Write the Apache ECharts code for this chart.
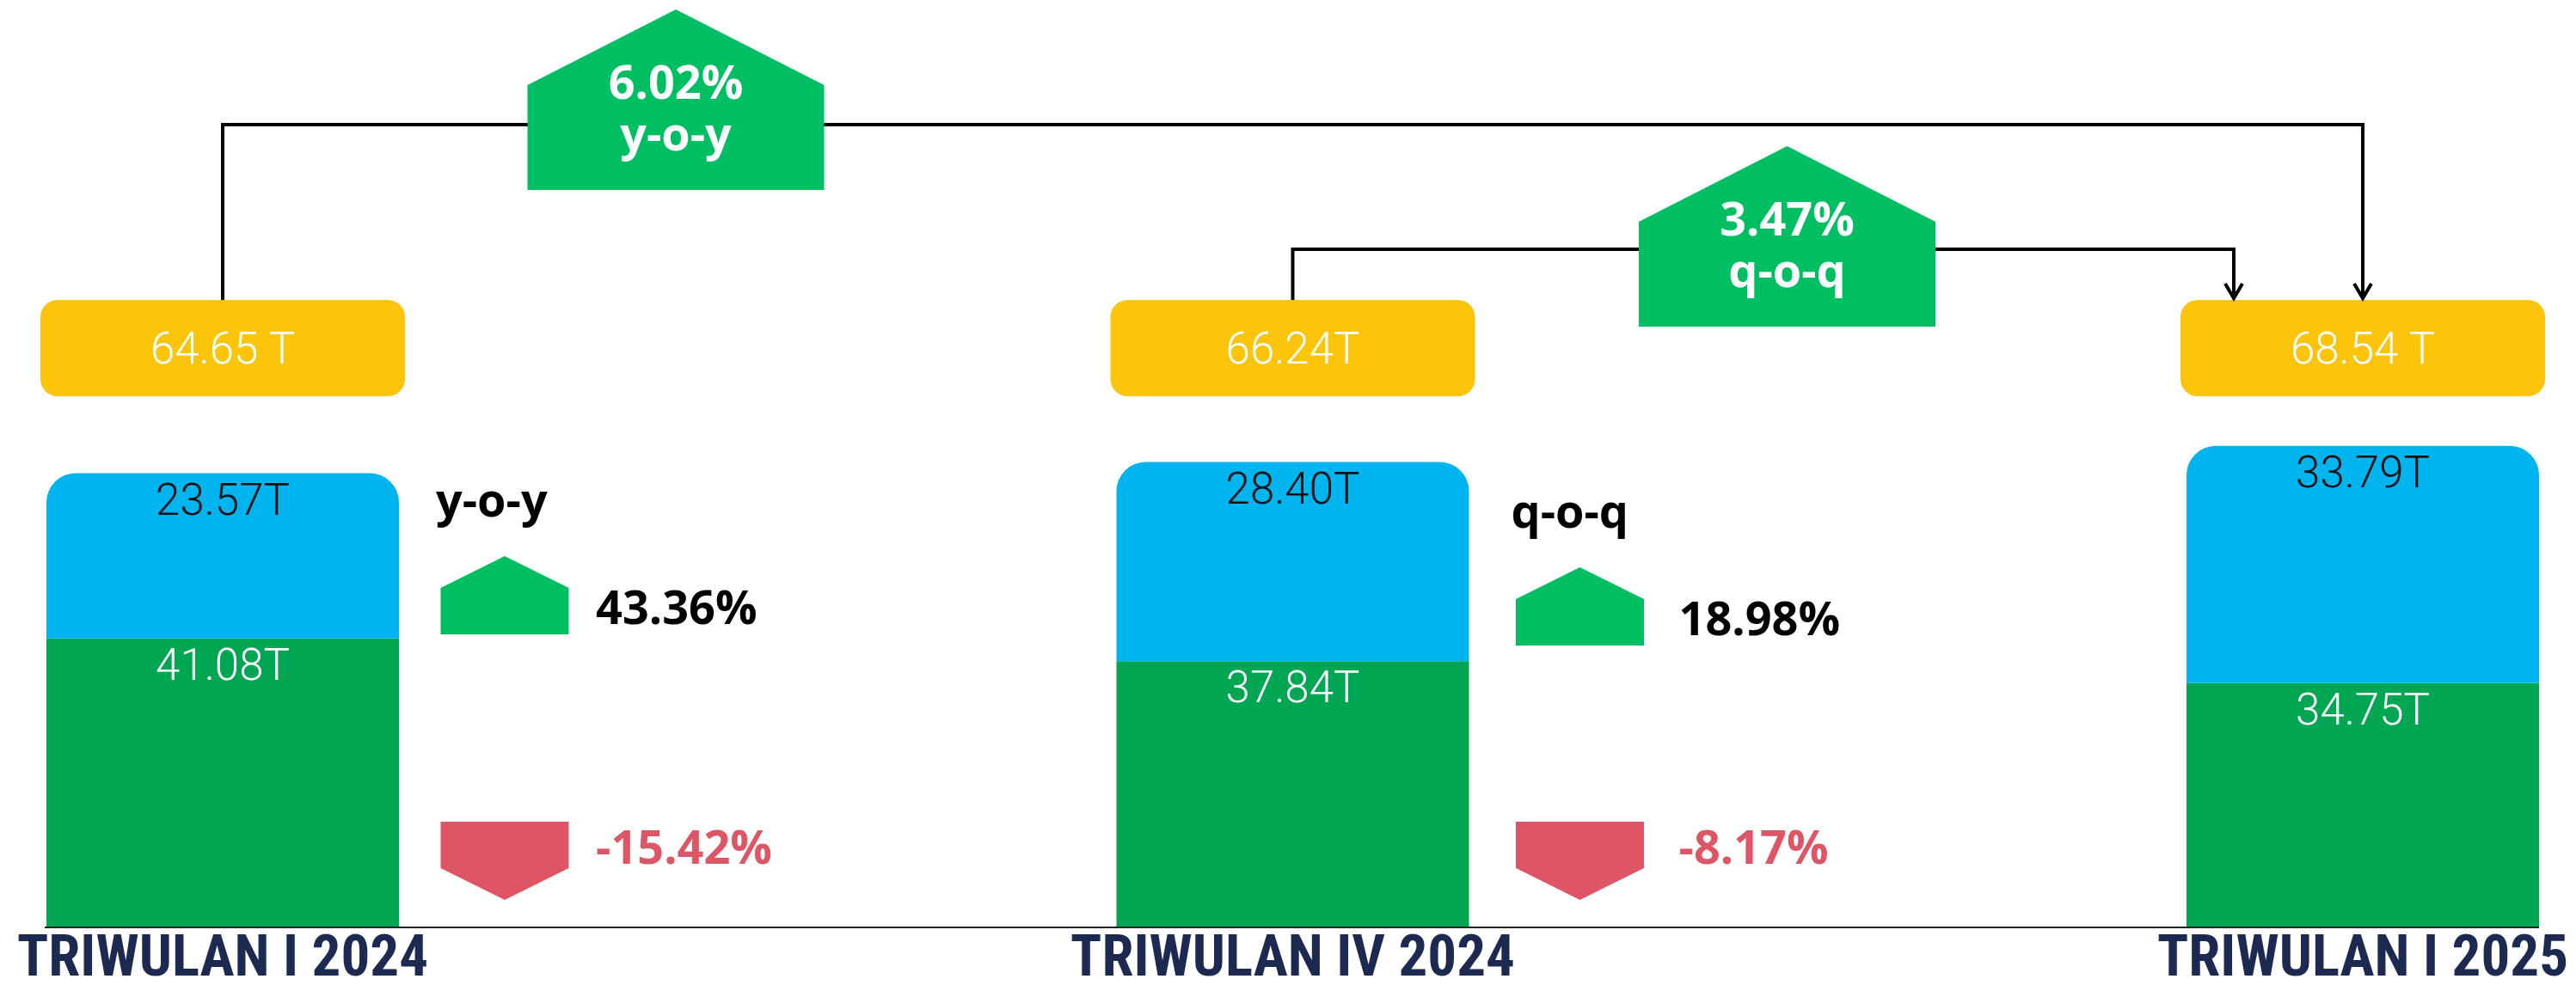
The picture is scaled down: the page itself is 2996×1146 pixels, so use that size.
<!DOCTYPE html>
<html>
<head>
<meta charset="utf-8">
<script src="https://cdn.jsdelivr.net/npm/echarts@6/dist/echarts.min.js"></script>
<style>
    html, body { margin: 0; padding: 0; background: #fff; }
    #chart { width: 2996px; height: 1146px; }
</style>
</head>
<body>
<div id="chart"></div>
<script>
// data (in T)
const quarters = ['TRIWULAN I 2024', 'TRIWULAN IV 2024', 'TRIWULAN I 2025'];
const greenPart = [41.08, 37.84, 34.75];
const bluePart = [23.57, 28.40, 33.79];
const totals = [64.65, 66.24, 68.54];
const greenLabels = ['41.08T', '37.84T', '34.75T'];
const blueLabels = ['23.57T', '28.40T', '33.79T'];
const totalLabels = ['64.65 T', '66.24T', '68.54 T'];

// growth of the total, compared quarter -> last quarter
const linkNames = ['y-o-y', 'q-o-q'];
const linkFrom = [0, 1];
const linkTo = [2, 2];
const linkRates = ['6.02%', '3.47%'];

// growth of each part
const blueRates = ['43.36%', '18.98%'];
const greenRates = ['-15.42%', '-8.17%'];

// colours and layout
const GREEN = '#00a651', BLUE = '#00b4f0', YELLOW = '#fcc40a'
const BADGE = '#00bf63', RED = '#de5566', NAVY = '#1c2951'
const BAR_W = 410
const BOX_TOP = 349, BOX_H = 112, BOX_W = 424
const LIGHT = '300 51px Roboto'
const BOLD = 'bold 54px "Open Sans"'
const linkLayout = [
    { lineY: 145, toDx: 0, badgeDx: 527, apex: 11 },
    { lineY: 290, toDx: -150, badgeDx: 575, apex: 170 }
]
const sideLayout = [
    { dx: 328, dy: 0, textDx: 106 },
    { dx: 334, dy: 13, textDx: 115 }
]

function houseUp(cx, top, w, point, h) {
    let hw = w / 2
    return [[cx, top], [cx + hw, top + point], [cx + hw, top + h], [cx - hw, top + h], [cx - hw, top + point]]
}
function houseDown(cx, top, w, point, h) {
    let hw = w / 2
    return [[cx - hw, top], [cx + hw, top], [cx + hw, top + h - point], [cx, top + h], [cx - hw, top + h - point]]
}
function txt(text, x, y, font, fill, align) {
    return {
        type: 'text',
        style: { text: text, x: x, y: y, font: font, fill: fill, textAlign: align, textVerticalAlign: 'middle' }
    }
}

const chart = echarts.init(document.getElementById('chart'))

let option = {
    backgroundColor: '#fff',
    animation: false,
    grid: { left: 259, right: 248, top: 262, bottom: 68, containLabel: false, outerBoundsMode: 'none' },
    xAxis: {
        type: 'category',
        data: quarters,
        boundaryGap: false,
        axisLine: { show: false },
        axisTick: { show: false },
        splitLine: { show: false },
        axisLabel: {
            interval: 0,
            margin: 7,
            color: NAVY,
            fontFamily: '"Roboto Condensed", "Liberation Sans Narrow", Roboto, sans-serif',
            fontWeight: 'bold',
            fontSize: 67,
            lineHeight: 67
        }
    },
    yAxis: { type: 'value', min: 0, max: 100, show: false },
    series: [
        {
            name: 'green',
            type: 'bar',
            stack: 'total',
            clip: false,
            barWidth: BAR_W,
            data: greenPart,
            itemStyle: { color: GREEN },
            label: {
                show: true, position: 'insideTop', distance: 10,
                color: '#fff', fontFamily: 'Roboto', fontWeight: 300, fontSize: 51, lineHeight: 51,
                formatter: (p) => greenLabels[p.dataIndex]
            }
        },
        {
            name: 'blue',
            type: 'bar',
            stack: 'total',
            clip: false,
            barWidth: BAR_W,
            data: bluePart,
            itemStyle: { color: BLUE, borderRadius: [34, 34, 0, 0] },
            label: {
                show: true, position: 'insideTop', distance: 10,
                color: '#111', fontFamily: 'Roboto', fontWeight: 300, fontSize: 51, lineHeight: 51,
                formatter: (p) => blueLabels[p.dataIndex]
            }
        },
        {
            // yellow total boxes
            type: 'custom',
            data: totals.map((v, i) => [i, v]),
            renderItem: (params, api) => {
                let x = api.coord([api.value(0), 0])[0]
                return {
                    type: 'group',
                    children: [
                        { type: 'rect', shape: { x: x - BOX_W / 2, y: BOX_TOP, width: BOX_W, height: BOX_H, r: 20 }, style: { fill: YELLOW } },
                        txt(totalLabels[params.dataIndex], x, BOX_TOP + 61, LIGHT, '#fff', 'center')
                    ]
                }
            }
        },
        {
            // connectors and growth badges of the total
            type: 'custom',
            data: linkFrom.map((f, i) => [f, 0]),
            renderItem: (params, api) => {
                let i = params.dataIndex
                let lay = linkLayout[i]
                let x0 = api.coord([linkFrom[i], 0])[0]
                let x1 = api.coord([linkTo[i], 0])[0] + lay.toDx
                let bx = x0 + lay.badgeDx
                let line = { stroke: '#000', lineWidth: 4, fill: 'none' }
                return {
                    type: 'group',
                    children: [
                        { type: 'polyline', shape: { points: [[x0, BOX_TOP], [x0, lay.lineY], [x1, lay.lineY], [x1, BOX_TOP - 2]] }, style: line },
                        { type: 'polyline', shape: { points: [[x1 - 10, BOX_TOP - 19], [x1, BOX_TOP - 2], [x1 + 10, BOX_TOP - 19]] }, style: line },
                        { type: 'polygon', shape: { points: houseUp(bx, lay.apex, 345, 88, 210) }, style: { fill: BADGE } },
                        txt(linkRates[i], bx, lay.apex + 89, BOLD, '#fff', 'center'),
                        txt(linkNames[i], bx, lay.apex + 149, BOLD, '#fff', 'center')
                    ]
                }
            }
        },
        {
            // part growth beside the bars
            type: 'custom',
            data: linkFrom.map((f, i) => [f, 0]),
            renderItem: (params, api) => {
                let i = params.dataIndex
                let lay = sideLayout[i]
                let cx = api.coord([linkFrom[i], 0])[0] + lay.dx
                return {
                    type: 'group',
                    children: [
                        txt(linkNames[i], cx - 80, 586 + lay.dy, BOLD, '#000', 'left'),
                        { type: 'polygon', shape: { points: houseUp(cx, 647 + lay.dy, 149, 37, 91) }, style: { fill: BADGE } },
                        txt(blueRates[i], cx + lay.textDx, 711 + lay.dy, BOLD, '#000', 'left'),
                        { type: 'polygon', shape: { points: houseDown(cx, 956, 149, 37, 91) }, style: { fill: RED } },
                        txt(greenRates[i], cx + lay.textDx, 990, BOLD, RED, 'left')
                    ]
                }
            }
        },
        {
            // base line under the bars
            type: 'custom',
            data: [[0, 0]],
            renderItem: (params, api) => {
                let a = api.coord([0, 0])
                let b = api.coord([quarters.length - 1, 0])
                return {
                    type: 'line',
                    shape: { x1: a[0] - BAR_W / 2 - 2, y1: a[1] + 1, x2: b[0] + BAR_W / 2, y2: a[1] + 1 },
                    style: { stroke: '#222', lineWidth: 2 }
                }
            }
        }
    ]
}

chart.setOption(option)
</script>
</body>
</html>
